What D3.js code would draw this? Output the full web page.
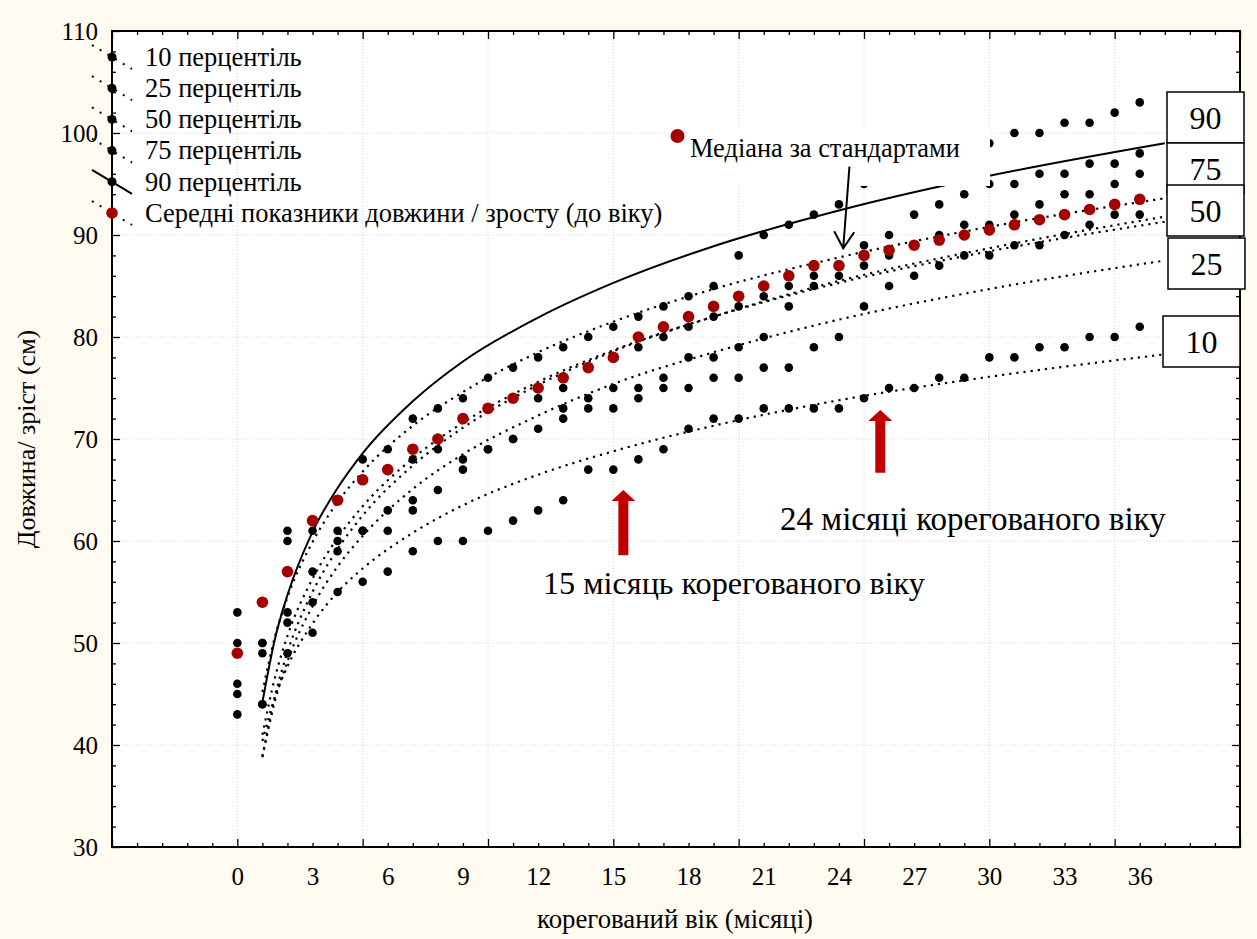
<html>
<meta charset="utf-8" />
<head>
<title>Довжина / зріст за корегованим віком</title>
<style>
body {
  margin: 0;
  background: #fffbf0;
}

svg text {
  font-family: "Liberation Serif", "Times New Roman", serif;
  fill: black;
}

.grid line {
  stroke: #d6d6d6;
  stroke-dasharray: 1,2;
}

.axis path {
  display: none;
}

.axis line {
  stroke: black;
  stroke-width: 1.3px;
}
</style>
<script src="https://cdn.jsdelivr.net/npm/d3@7"></script>
</head>

<body>
<svg class="chart" width="1257" height="939"></svg>

<script>
/********
 * Data *
 ********/

var months = [0,1,2,3,4,5,6,7,8,9,10,11,12,13,14,15,16,17,18,19,20,21,22,23,24,25,26,27,28,29,30,31,32,33,34,35,36];

var p10 = [43,44,49,51,55,56,57,59,60,60,61,62,63,64,67,67,68,69,71,72,72,73,73,73,73,74,75,75,76,76,78,78,79,79,80,80,81];
var p25 = [45,44,52,54,59,61,61,63,65,67,69,70,71,72,73,73,74,75,75,76,76,77,77,79,80,83,85,86,87,88,88,89,89,90,91,92,92];
var p50 = [46,49,53,57,60,61,63,64,69,68,69,70,74,73,74,75,75,76,78,78,79,80,83,85,86,87,88,89,90,91,91,92,93,94,94,95,96];
var p75 = [50,50,60,61,61,66,67,68,70,72,73,74,75,75,77,78,79,80,81,82,83,84,85,86,87,89,90,92,93,94,95,95,96,96,97,97,98];
var p90 = [53,50,61,62,64,68,69,72,73,74,76,77,78,79,80,81,82,83,84,85,88,90,91,92,93,95,96,97,97,98,99,100,100,101,101,102,103];
var meanLen = [49,54,57,62,64,66,67,69,70,72,73,74,75,76,77,78,80,81,82,83,84,85,86,87,87,88,88.5,89,89.5,90,90.5,91,91.5,92,92.5,93,93.5];

// trend curves at these months
var trendMonths = [1,1.5,2,3,4,5,7,9,12,15,19,24,30,37];
var trendSolid = [44.2,50.4,54.7,60.9,65.2,68.6,73.7,77.6,81.9,85.3,88.9,92.4,95.8,99.0];
var trendA = [45.2,50.6,54.5,59.9,63.8,66.8,71.3,74.6,78.5,81.5,84.7,87.8,90.8,93.6];
var trendB = [38.9,44.8,49.1,55.0,59.2,62.5,67.4,71.1,75.3,78.6,82.0,85.5,88.7,91.8];
var trendC = [41.0,46.6,50.7,56.3,60.3,63.4,68.1,71.6,75.6,78.7,82.0,85.3,88.4,91.3];
var trendD = [38.8,44.3,48.2,53.6,57.5,60.5,65.1,68.5,72.3,75.4,78.5,81.7,84.7,87.5];
var trendE = [40.4,44.7,47.7,51.9,55.0,57.3,60.8,63.5,66.5,68.8,71.3,73.8,76.1,78.3];

var xTickLabels = [0,3,6,9,12,15,18,21,24,27,30,33,36];
var yTickLabels = [30,40,50,60,70,80,90,100,110];

var legendLabels = ["10 перцентіль","25 перцентіль","50 перцентіль","75 перцентіль","90 перцентіль",
                    "Середні показники довжини / зросту (до віку)"];

var boxLabels = ["90","75","50","25","10"];

/**********
 * Scales *
 **********/
var plotL = 112, plotR = 1240, plotT = 31, plotB = 847;

var x = d3.scaleLinear().domain([-5,40]).range([plotL,plotR]);
var y = d3.scaleLinear().domain([30,110]).range([plotB,plotT]);

var canvas = d3.select(".chart");

// plot area
canvas.append("rect")
    .attr("x",plotL).attr("y",plotT)
    .attr("width",plotR-plotL).attr("height",plotB-plotT)
    .attr("fill","white");

// grid
var grid = canvas.append("g").attr("class","grid");
grid.selectAll(".gx")
    .data([0,5,10,15,20,25,30,35])
    .enter().append("line")
    .attr("x1",function(d){ return x(d); })
    .attr("x2",function(d){ return x(d); })
    .attr("y1",plotT).attr("y2",plotB);
grid.selectAll(".gy")
    .data([40,50,60,70,80,90,100])
    .enter().append("line")
    .attr("y1",function(d){ return y(d); })
    .attr("y2",function(d){ return y(d); })
    .attr("x1",plotL).attr("x2",plotR);

/***************
 * Trend lines *
 ***************/
var line = d3.line()
    .x(function(d){ return x(d[0]); })
    .y(function(d){ return y(d[1]); })
    .curve(d3.curveMonotoneX);

function pairs(vals){
  return trendMonths.map(function(m,i){ return [m, vals[i]]; });
}

[trendA,trendB,trendC,trendD,trendE].forEach(function(t){
  canvas.append("path")
      .attr("d",line(pairs(t)))
      .attr("fill","none")
      .attr("stroke","black")
      .attr("stroke-width",2.2)
      .attr("stroke-dasharray","2.2,5");
});

canvas.append("path")
    .attr("d",line(pairs(trendSolid)))
    .attr("fill","none")
    .attr("stroke","black")
    .attr("stroke-width",2);

/**********
 * Points *
 **********/
[p10,p25,p50,p75,p90].forEach(function(s){
  canvas.append("g").selectAll("circle")
      .data(s)
      .enter().append("circle")
      .attr("cx",function(d,i){ return x(months[i]); })
      .attr("cy",function(d){ return y(d); })
      .attr("r",4.3)
      .attr("fill","black");
});

canvas.append("g").selectAll("circle")
    .data(meanLen)
    .enter().append("circle")
    .attr("cx",function(d,i){ return x(months[i]); })
    .attr("cy",function(d){ return y(d); })
    .attr("r",5.8)
    .attr("fill","#a30000");

/***************
 * Annotations *
 ***************/

// text with white background
canvas.append("rect")
    .attr("x",686).attr("y",125)
    .attr("width",304).attr("height",61)
    .attr("fill","white");

canvas.append("circle")
    .attr("cx",x(17.56)).attr("cy",y(99.7))
    .attr("r",7)
    .attr("fill","#a30000");

canvas.append("text")
    .attr("x",690).attr("y",157)
    .attr("font-size","26.4px")
    .text("Медіана за стандартами");

// black arrow
var ax1 = x(24.42), ay1 = y(96.7), ax2 = x(24.17), ay2 = y(88.7);
canvas.append("path")
    .attr("d","M"+ax1+","+ay1+"L"+ax2+","+ay2+
              "M"+(ax2-9)+","+(ay2-17)+"L"+ax2+","+ay2+"L"+(ax2+11)+","+(ay2-16))
    .attr("fill","none")
    .attr("stroke","black")
    .attr("stroke-width",2);

// red arrows
var redArrows = [{m:15.4, from:58.6, to:65.0}, {m:25.65, from:66.7, to:72.85}];
canvas.selectAll(".redarrow")
    .data(redArrows)
    .enter().append("path")
    .attr("d",function(d){
      var cx = x(d.m), yb = y(d.from), yt = y(d.to);
      return "M"+(cx-5)+","+yb+"L"+(cx-5)+","+(yt+11)+"L"+(cx-12)+","+(yt+11)+
             "L"+cx+","+yt+"L"+(cx+12)+","+(yt+11)+"L"+(cx+5)+","+(yt+11)+"L"+(cx+5)+","+yb+"Z";
    })
    .attr("fill","#c00000");

canvas.append("text")
    .attr("x",780).attr("y",530)
    .attr("font-size","33px")
    .text("24 місяці корегованого віку");

canvas.append("text")
    .attr("x",543).attr("y",594)
    .attr("font-size","32.2px")
    .text("15 місяць корегованого віку");

/********
 * Axes *
 ********/
var yAxis = d3.axisLeft(y)
    .tickValues(yTickLabels)
    .tickSizeInner(-8)
    .tickSizeOuter(0)
    .tickPadding(14);

canvas.append("g")
    .attr("class","axis")
    .attr("transform","translate("+plotL+",0)")
    .call(yAxis)
    .selectAll("text")
    .attr("font-size","25px")
    .attr("font-family","Liberation Serif");

var yMinor = [];
yTickLabels.forEach(function(v){ if(v < 110){ yMinor.push(v+2,v+4,v+6,v+8); } });

canvas.append("g")
    .attr("class","axis")
    .attr("transform","translate("+plotL+",0)")
    .call(d3.axisLeft(y).tickValues(yMinor).tickSize(-4).tickFormat(""));

canvas.append("g")
    .attr("class","axis")
    .attr("transform","translate("+plotR+",0)")
    .call(d3.axisRight(y).tickValues(yTickLabels).tickSize(-8).tickFormat(""));

canvas.append("g")
    .attr("class","axis")
    .attr("transform","translate("+plotR+",0)")
    .call(d3.axisRight(y).tickValues(yMinor).tickSize(-4).tickFormat(""));

var xMajor = [-5,0,5,10,15,20,25,30,35,40];
var xMinor = [];
xMajor.forEach(function(v){ if(v < 40){ xMinor.push(v+1,v+2,v+3,v+4); } });

canvas.append("g")
    .attr("class","axis")
    .attr("transform","translate(0,"+plotB+")")
    .call(d3.axisBottom(x).tickValues(xMajor).tickSize(-8).tickFormat(""));
canvas.append("g")
    .attr("class","axis")
    .attr("transform","translate(0,"+plotB+")")
    .call(d3.axisBottom(x).tickValues(xMinor).tickSize(-4).tickFormat(""));
canvas.append("g")
    .attr("class","axis")
    .attr("transform","translate(0,"+plotT+")")
    .call(d3.axisTop(x).tickValues(xMajor).tickSize(-8).tickFormat(""));
canvas.append("g")
    .attr("class","axis")
    .attr("transform","translate(0,"+plotT+")")
    .call(d3.axisTop(x).tickValues(xMinor).tickSize(-4).tickFormat(""));

canvas.append("g")
    .attr("class","axis")
    .attr("transform","translate(0,"+plotB+")")
    .call(d3.axisBottom(x).tickValues(xTickLabels).tickSize(0).tickPadding(20))
    .selectAll("text")
    .attr("font-size","25px")
    .attr("font-family","Liberation Serif");

// frame
canvas.append("rect")
    .attr("x",plotL).attr("y",plotT)
    .attr("width",plotR-plotL).attr("height",plotB-plotT)
    .attr("fill","none")
    .attr("stroke","black")
    .attr("stroke-width",2);

// axis titles
canvas.append("text")
    .attr("transform","translate(35,"+(plotT+plotB)/2+") rotate(-90)")
    .attr("text-anchor","middle")
    .attr("font-size","26px")
    .text("Довжина/ зріст (см)");

canvas.append("text")
    .attr("x",675).attr("y",928)
    .attr("text-anchor","middle")
    .attr("font-size","26.8px")
    .text("корегований вік (місяці)");

/*********************
 * Percentile boxes  *
 *********************/
var boxes = [{x:1167,y:92},{x:1167,y:143},{x:1167,y:185},{x:1168,y:238},{x:1163,y:316}];
var boxG = canvas.append("g").selectAll("g")
    .data(boxLabels)
    .enter().append("g")
    .attr("transform",function(d,i){ return "translate("+boxes[i].x+","+boxes[i].y+")"; });

boxG.append("rect")
    .attr("width",77).attr("height",51)
    .attr("fill","white")
    .attr("stroke","black")
    .attr("stroke-width",1.5);

boxG.append("text")
    .attr("x",38.5).attr("y",37)
    .attr("text-anchor","middle")
    .attr("font-size","32px")
    .text(function(d){ return d; });

/**********
 * Legend *
 **********/
var legend = canvas.append("g").selectAll("g")
    .data(legendLabels)
    .enter().append("g")
    .attr("transform",function(d,i){ return "translate("+plotL+","+(57+i*31.2)+")"; });

legend.append("line")
    .attr("x1",-20).attr("y1",-12).attr("x2",20).attr("y2",12)
    .attr("stroke","black")
    .attr("stroke-width",2)
    .attr("stroke-dasharray",function(d,i){ return i == 4 ? null : "2,7"; });

legend.append("circle")
    .attr("r",function(d,i){ return i == 5 ? 5.8 : 4.5; })
    .attr("fill",function(d,i){ return i == 5 ? "#a30000" : "black"; });

legend.append("text")
    .attr("x",33).attr("dy","0.33em")
    .attr("font-size","26.5px")
    .text(function(d){ return d; });
</script>
</body>
</html>
